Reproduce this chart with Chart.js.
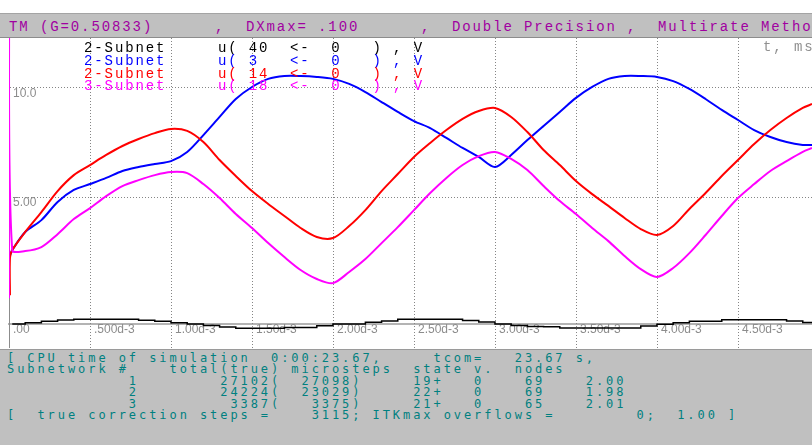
<!DOCTYPE html>
<html>
<head>
<meta charset="utf-8">
<script src="https://cdn.jsdelivr.net/npm/chart.js@4.4.1/dist/chart.umd.min.js"></script>
<style>
body { margin: 0; width: 812px; height: 445px; overflow: hidden; background: #fff; position: relative; }
#hdr { position: absolute; left: 0; top: 13px; width: 812px; height: 23px; background: #c0c0c0; border-top: 1px solid #a4a4a4; border-bottom: 1px solid #8c8c8c; }
#c { position: absolute; left: 0; top: 38px; }
.mono { position: absolute; white-space: pre; font-family: "Liberation Mono", monospace; font-size: 14px; line-height: 14px; letter-spacing: 1.9px; }
#panel { position: absolute; left: 0; top: 349px; width: 812px; height: 95px; background: #c0c0c0; border-top: 1px solid #9a9a9a; }
.bot { position: absolute; left: 7px; white-space: pre; font-family: "DejaVu Sans Mono", monospace; font-size: 12px; line-height: 12px; letter-spacing: 2.93px; color: #008080; }
</style>
</head>
<body>
<div id="hdr"></div>
<div class="mono" style="left:9px;top:20.3px;color:#a000a0">TM (G=0.50833)      ,  DXmax= .100      ,  Double Precision ,  Multirate Method</div>
<canvas id="c" width="812" height="310"></canvas>
<div class="mono" style="left:84px;top:41.3px;color:#000">2-Subnet     u( 40  &lt;-  0   ) , V</div>
<div class="mono" style="left:84px;top:54px;color:#0000ff">2-Subnet     u( 3   &lt;-  0   ) , V</div>
<div class="mono" style="left:84px;top:66.7px;color:#ff0000">2-Subnet     u( 14  &lt;-  0   ) , V</div>
<div class="mono" style="left:84px;top:79.4px;color:#ff00ff">3-Subnet     u( 18  &lt;-  0   ) , V</div>
<div class="mono" style="left:763px;top:40.3px;color:#909090">t, ms</div>
<div id="panel"></div>
<div class="bot" style="top:351.8px">[ CPU time of simulation  0:00:23.67,     tcom=   23.67 s,</div>
<div class="bot" style="top:363.3px">Subnetwork #    total(true) microsteps  state v.  nodes</div>
<div class="bot" style="top:374.8px">            1        27102(  27098)     19+   0    69    2.00</div>
<div class="bot" style="top:386.3px">            2        24224(  23029)     22+   0    69    1.98</div>
<div class="bot" style="top:397.8px">            3         3387(   3375)     21+   0    65    2.01</div>
<div class="bot" style="top:409.3px">[  true correction steps =    3115; ITKmax overflows =        0;  1.00 ]</div>
<script>
// time, ms
var times = [0.02, 0.1, 0.2, 0.3, 0.4, 0.5, 0.6, 0.7, 0.8, 0.9, 1.0, 1.1, 1.2, 1.3, 1.4, 1.5, 1.6, 1.7, 1.8, 1.9,
    2.0, 2.1, 2.2, 2.3, 2.4, 2.5, 2.6, 2.7, 2.8, 2.9, 3.0, 3.1, 3.2, 3.3, 3.4, 3.5, 3.6, 3.7, 3.8, 3.9,
    4.0, 4.1, 4.2, 4.3, 4.4, 4.5, 4.6, 4.7, 4.8, 4.9, 4.957];

// u(3), V
var blue = [2.56, 3.39, 3.93, 4.76, 5.31, 5.58, 5.86, 6.18, 6.36, 6.50, 6.63, 7.05, 7.82, 8.65, 9.47, 10.02, 10.39, 10.52, 10.52, 10.48,
    10.39, 10.16, 9.79, 9.33, 8.88, 8.46, 8.14, 7.69, 7.23, 6.82, 6.36, 6.91, 7.59, 8.24, 8.88, 9.52, 10.02, 10.39, 10.52, 10.52,
    10.48, 10.29, 9.93, 9.47, 8.97, 8.51, 8.05, 7.73, 7.50, 7.37, 7.37];
// u(14), V
var red = [2.56, 3.39, 4.30, 5.26, 5.99, 6.45, 6.91, 7.32, 7.64, 7.91, 8.10, 8.01, 7.50, 6.68, 5.95, 5.26, 4.67, 4.12, 3.57, 3.16,
    3.11, 3.66, 4.39, 5.26, 6.04, 6.82, 7.46, 8.05, 8.56, 8.92, 9.06, 8.65, 7.96, 7.14, 6.45, 5.72, 5.12, 4.58, 4.03, 3.52,
    3.25, 3.66, 4.44, 5.17, 5.95, 6.68, 7.41, 8.05, 8.60, 9.06, 9.24];
// u(18), V
var magenta = [2.56, 2.52, 2.70, 3.29, 3.98, 4.48, 5.03, 5.49, 5.76, 5.99, 6.13, 6.08, 5.58, 4.94, 4.21, 3.57, 2.88, 2.24, 1.65, 1.24,
    1.05, 1.56, 2.15, 2.88, 3.61, 4.39, 5.17, 5.86, 6.45, 6.86, 7.05, 6.73, 6.22, 5.49, 4.80, 4.21, 3.57, 2.97, 2.29, 1.69,
    1.33, 1.74, 2.42, 3.25, 4.12, 4.94, 5.58, 6.18, 6.63, 7.05, 7.23];
// u(40), own scale
var black = [0, 0.027, 0.056, 0.083, 0.098, 0.098, 0.098, 0.098, 0.077, 0.056, 0.027, 0, -0.031, -0.063, -0.09, -0.09, -0.09, -0.073, -0.073, -0.035,
    0, 0, 0.035, 0.063, 0.098, 0.098, 0.098, 0.098, 0.073, 0.042, 0, -0.031, -0.052, -0.056, -0.083, -0.083, -0.083, -0.083, -0.083, -0.042,
    -0.006, 0.027, 0.056, 0.056, 0.09, 0.09, 0.09, 0.09, 0.063, 0.031, 0.031];

// start-up transients at t = 0
var blueOnsetT = [0.006], blueOnsetV = [2.3];
var redOnsetT = [0.006, 0.006], redOnsetV = [0.5, 2.2];
var magentaOnsetT = [0, 0], magentaOnsetV = [0.36, 12.5];

var xTicks = [0, 0.5, 1.0, 1.5, 2.0, 2.5, 3.0, 3.5, 4.0, 4.5];
var xTickLabels = ['.00', '.500d-3', '1.00d-3', '1.50d-3', '2.00d-3', '2.50d-3', '3.00d-3', '3.50d-3', '4.00d-3', '4.50d-3'];
var yTicks = [5, 10];
var yTickLabels = ['5.00', '10.0'];

function pts(ts, vs, onT, onV) {
    var out = [];
    (onT || []).forEach((t, i) => out.push({ x: t, y: onV[i] }));
    ts.forEach((t, i) => out.push({ x: t, y: vs[i] }));
    return out;
}

var gridGray = '#858585';

// dotted grid (down through the label strip) + left axis tail
var dottedGrid = {
    id: 'dottedGrid',
    beforeDatasetsDraw(chart) {
        var ctx = chart.ctx, a = chart.chartArea;
        var xs = chart.scales.x, ys = chart.scales.y;
        ctx.save();
        ctx.strokeStyle = '#8c8c8c';
        ctx.lineWidth = 1;
        ctx.beginPath();
        ctx.moveTo(Math.round(a.left) + 0.5, a.bottom);
        ctx.lineTo(Math.round(a.left) + 0.5, chart.height);
        ctx.stroke();
        ctx.strokeStyle = gridGray;
        ctx.setLineDash([1, 2]);
        xTicks.forEach(v => {
            if (v === 0) return;
            var px = Math.round(xs.getPixelForValue(v)) + 0.5;
            ctx.beginPath();
            ctx.moveTo(px, a.top);
            ctx.lineTo(px, chart.height);
            ctx.stroke();
        });
        yTicks.forEach(v => {
            var py = Math.round(ys.getPixelForValue(v)) + 0.5;
            ctx.beginPath();
            ctx.moveTo(a.left + 1, py);
            ctx.lineTo(a.right, py);
            ctx.stroke();
        });
        ctx.restore();
    }
};

new Chart(document.getElementById('c'), {
    type: 'line',
    data: {
        datasets: [
            { label: 'u(18)', data: pts(times, magenta, magentaOnsetT, magentaOnsetV), borderColor: '#ff00ff', borderWidth: 2, order: 1, tension: 0.3 },
            { label: 'u(14)', data: pts(times, red, redOnsetT, redOnsetV), borderColor: '#ff0000', borderWidth: 2, order: 2, tension: 0.3 },
            { label: 'u(3)', data: pts(times, blue, blueOnsetT, blueOnsetV), borderColor: '#0000ff', borderWidth: 2, order: 3, tension: 0.3 },
            { label: 'u(40)', data: pts(times, black), borderColor: '#000000', borderWidth: 1.5, order: 4, stepped: true, yAxisID: 'yb', clip: false }
        ]
    },
    options: {
        responsive: false,
        animation: false,
        events: [],
        elements: { point: { radius: 0 } },
        layout: { autoPadding: false, padding: { left: 9, right: 0, top: 0, bottom: 0 } },
        plugins: { legend: { display: false }, tooltip: { enabled: false } },
        scales: {
            x: {
                type: 'linear', min: 0, max: 4.957,
                afterBuildTicks: s => { s.ticks = xTicks.map(v => ({ value: v })); },
                afterFit: s => { s.height = 24; s.paddingLeft = 0; s.paddingRight = 0; },
                grid: { display: false, drawTicks: true, tickLength: 24 },
                border: { display: true, color: '#b4b4b4', width: 2 },
                ticks: {
                    autoSkip: false, maxRotation: 0, align: 'start', padding: -26, labelOffset: 4,
                    color: '#8c8c8c', font: { family: 'Liberation Sans', size: 12 },
                    callback: (v, i) => xTickLabels[i]
                }
            },
            y: {
                min: -0.82, max: 12.26,
                afterBuildTicks: s => { s.ticks = yTicks.map(v => ({ value: v })); },
                afterFit: s => { s.width = 0; s.paddingTop = 0; s.paddingBottom = 0; },
                grid: { display: false, drawTicks: false },
                border: { display: true, color: '#8c8c8c', width: 1 },
                ticks: {
                    mirror: true, padding: 4, labelOffset: 6,
                    color: '#8c8c8c', font: { family: 'Liberation Sans', size: 12 },
                    callback: (v, i) => yTickLabels[i]
                }
            },
            yb: { display: false, min: 0, max: 5.96 }
        }
    },
    plugins: [dottedGrid]
});
</script>
</body>
</html>
